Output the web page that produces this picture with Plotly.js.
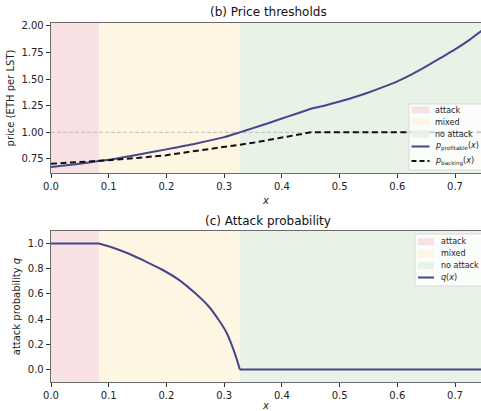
<!DOCTYPE html>
<html><head><meta charset="utf-8">
<script src="https://cdn.plot.ly/plotly-3.0.1.min.js"></script>
<style>html,body{margin:0;padding:0;overflow:hidden;background:#fff}#chart{width:481px;height:411px}</style>
</head><body><div id="chart"></div>
<script>
// ---- data ----
const regionNames = ['attack', 'mixed', 'no attack'];
const regionEdges = [0, 0.083, 0.327, 0.75];

const priceX      = [0, 0.05, 0.083, 0.1, 0.15, 0.2, 0.25, 0.3, 0.327, 0.35, 0.375, 0.4, 0.425, 0.45, 0.475, 0.5, 0.525, 0.55, 0.575, 0.6, 0.625, 0.65, 0.675, 0.7, 0.725, 0.75];
const pProfitable = [0.675, 0.706, 0.73, 0.742, 0.79, 0.84, 0.893, 0.955, 1.0, 1.04, 1.083, 1.13, 1.175, 1.222, 1.253, 1.29, 1.33, 1.375, 1.425, 1.48, 1.545, 1.62, 1.70, 1.78, 1.87, 1.97];

const backingX = [0, 0.05, 0.1, 0.15, 0.2, 0.25, 0.3, 0.327, 0.35, 0.4, 0.45, 0.5, 0.6, 0.7, 0.75];
const pBacking = [0.705, 0.72, 0.738, 0.76, 0.785, 0.825, 0.865, 0.88, 0.902, 0.951, 1.0, 1.0, 1.0, 1.0, 1.0];

const parityPrice = 1.0;

const probX      = [0, 0.083, 0.105, 0.134, 0.163, 0.192, 0.221, 0.25, 0.273, 0.29, 0.3045, 0.316, 0.3246, 0.327, 0.5, 0.75];
const attackProb = [1, 1, 0.971, 0.921, 0.860, 0.794, 0.714, 0.605, 0.502, 0.397, 0.290, 0.159, 0.04, 0, 0, 0];

const panelTitles = ['(b) Price thresholds', '(c) Attack probability'];

// ---- styles ----
const FONT = 'DejaVu Sans, sans-serif';
const regionColors = ['rgb(247,225,227)', 'rgb(254,246,226)', 'rgb(233,242,230)'];
const lineBlue = 'rgb(70,70,140)';
const W = 481, H = 411, ML = 51, PW = 430;
const px2x = p => (p - ML) / PW;
const py2y = p => 1 - p / H;

// split q(x) at the region edges so that the mixed part can be drawn smooth and the kinks stay sharp
const qIdx = (lo, hi) => probX.map((v, i) => i).filter(i => probX[i] >= lo && probX[i] <= hi);
const qSeg = (lo, hi, smooth) => {
  const idx = qIdx(lo, hi);
  return {x: idx.map(i => probX[i]), y: idx.map(i => attackProb[i]), xaxis: 'x2', yaxis: 'y2', mode: 'lines',
    name: 'q', line: smooth ? {color: lineBlue, width: 2, shape: 'spline', smoothing: 0.8} : {color: lineBlue, width: 2},
    showlegend: false, hoverinfo: 'skip'};
};

const traces = [
  {x: priceX, y: pProfitable, xaxis: 'x', yaxis: 'y', mode: 'lines', name: 'p_profitable',
   line: {color: lineBlue, width: 2, shape: 'spline', smoothing: 0.6}, showlegend: false, hoverinfo: 'skip'},
  {x: backingX, y: pBacking, xaxis: 'x', yaxis: 'y', mode: 'lines', name: 'p_backing',
   line: {color: '#111', width: 2, dash: '6px,3.5px'}, showlegend: false, hoverinfo: 'skip'},
  qSeg(regionEdges[0], regionEdges[1], false),
  qSeg(regionEdges[1], regionEdges[2], true),
  qSeg(regionEdges[2], regionEdges[3], false)
];

const shapes = [];
const annotations = [];

// regions
[['x', 'y domain'], ['x2', 'y2 domain']].forEach(([xr, yr]) => {
  for (let i = 0; i < regionNames.length; i++) {
    shapes.push({type: 'rect', xref: xr, yref: yr, x0: regionEdges[i], x1: regionEdges[i + 1], y0: 0, y1: 1,
      fillcolor: regionColors[i], line: {width: 0}, layer: 'below'});
  }
});
// parity line
shapes.push({type: 'line', xref: 'x domain', yref: 'y', x0: 0, x1: 1, y0: parityPrice, y1: parityPrice,
  line: {color: '#bdbdbd', width: 1, dash: '4px,2px'}, layer: 'below'});

// panel titles
annotations.push({text: panelTitles[0], xref: 'paper', yref: 'paper', x: px2x(268), y: py2y(12),
  xanchor: 'center', yanchor: 'middle', showarrow: false, font: {family: FONT, size: 12, color: '#111'}});
annotations.push({text: panelTitles[1], xref: 'paper', yref: 'paper', x: px2x(268), y: py2y(221),
  xanchor: 'center', yanchor: 'middle', showarrow: false, font: {family: FONT, size: 12, color: '#111'}});

// legends
function legend(box, items) {
  shapes.push({type: 'rect', xref: 'paper', yref: 'paper', x0: px2x(box.x0), x1: px2x(box.x1),
    y0: py2y(box.y1), y1: py2y(box.y0), fillcolor: 'rgba(255,255,255,0.8)', line: {color: '#d9d9d9', width: 1}});
  items.forEach(it => {
    if (it.kind === 'patch') {
      shapes.push({type: 'rect', xref: 'paper', yref: 'paper', x0: px2x(box.sx0), x1: px2x(box.sx1),
        y0: py2y(it.y + 3.5), y1: py2y(it.y - 3.5), fillcolor: it.color, line: {width: 0}});
    } else {
      shapes.push({type: 'line', xref: 'paper', yref: 'paper', x0: px2x(box.sx0), x1: px2x(box.sx1),
        y0: py2y(it.y), y1: py2y(it.y), line: {color: it.color, width: 2, dash: it.dash || 'solid'}});
    }
    annotations.push({text: it.text, xref: 'paper', yref: 'paper', x: px2x(box.tx), y: py2y(it.y),
      xanchor: 'left', yanchor: 'middle', showarrow: false, font: {family: FONT, size: 8, color: '#222'}});
  });
}
legend({x0: 409, x1: 484, y0: 104, y1: 170, sx0: 411.5, sx1: 429.5, tx: 433},
  [
    {kind: 'patch', color: regionColors[0], text: regionNames[0], y: 110},
    {kind: 'patch', color: regionColors[1], text: regionNames[1], y: 122},
    {kind: 'patch', color: regionColors[2], text: regionNames[2], y: 134},
    {kind: 'line', color: lineBlue, text: '<i>p</i><sub>profitable</sub>(<i>x</i>)', y: 146.5},
    {kind: 'line', color: '#111', dash: '5px,3px', text: '<i>p</i><sub>backing</sub>(<i>x</i>)', y: 161}
  ]);
legend({x0: 415, x1: 484, y0: 234, y1: 286, sx0: 418, sx1: 434, tx: 439},
  [
    {kind: 'patch', color: regionColors[0], text: regionNames[0], y: 241.7},
    {kind: 'patch', color: regionColors[1], text: regionNames[1], y: 253.7},
    {kind: 'patch', color: regionColors[2], text: regionNames[2], y: 265.7},
    {kind: 'line', color: lineBlue, text: '<i>q</i>(<i>x</i>)', y: 277.5}
  ]);

const axCommon = {
  showgrid: false, zeroline: false, showline: true, linecolor: '#6b6b6b', linewidth: 1.3,
  ticks: 'outside', ticklen: 4, tickwidth: 1, tickcolor: '#333',
  tickfont: {family: FONT, size: 10, color: '#222'}
};

const layout = {
  width: W, height: H,
  margin: {l: ML, r: 0, t: 0, b: 0},
  paper_bgcolor: '#fff', plot_bgcolor: '#fff',
  font: {family: FONT, size: 10, color: '#222'},
  showlegend: false,
  xaxis: Object.assign({}, axCommon, {anchor: 'y', domain: [0, 1], range: [0, 0.745], dtick: 0.1, tick0: 0,
    tickformat: '.1f', mirror: true,
    title: {text: '<i>x</i>', standoff: 5, font: {family: FONT, size: 10, color: '#222'}}}),
  yaxis: Object.assign({}, axCommon, {anchor: 'x', domain: [py2y(173), py2y(23)], range: [0.618, 2.028],
    dtick: 0.25, tick0: 0, tickformat: '.2f',
    title: {text: 'price (ETH per LST)', standoff: 5, font: {family: FONT, size: 10, color: '#222'}}}),
  xaxis2: Object.assign({}, axCommon, {anchor: 'y2', domain: [0, 1], range: [0, 0.745], dtick: 0.1, tick0: 0,
    tickformat: '.1f', mirror: true,
    title: {text: '<i>x</i>', standoff: 5, font: {family: FONT, size: 10, color: '#222'}}}),
  yaxis2: Object.assign({}, axCommon, {anchor: 'x2', domain: [py2y(382), py2y(231)], range: [-0.1, 1.1],
    dtick: 0.2, tick0: 0, tickformat: '.1f',
    title: {text: 'attack probability <i>q</i>', standoff: 5, font: {family: FONT, size: 10, color: '#222'}}}),
  shapes: shapes,
  annotations: annotations
};

Plotly.newPlot('chart', traces, layout, {staticPlot: true, displayModeBar: false});
</script>
</body></html>
